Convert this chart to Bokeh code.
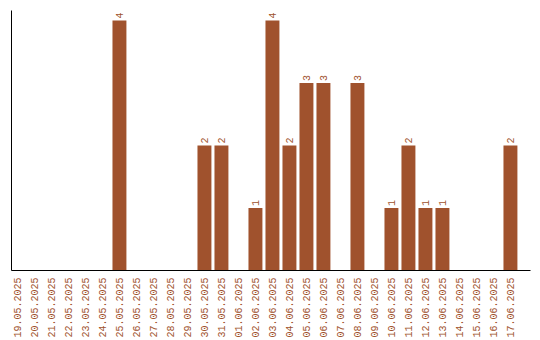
import math
from bokeh.plotting import figure
from bokeh.models import ColumnDataSource, FixedTicker, Range1d
from bokeh.core.properties import value
from bokeh.embed import file_html
from bokeh.resources import INLINE

dates = ["19.05.2025", "20.05.2025", "21.05.2025", "22.05.2025", "23.05.2025",
         "24.05.2025", "25.05.2025", "26.05.2025", "27.05.2025", "28.05.2025",
         "29.05.2025", "30.05.2025", "31.05.2025", "01.06.2025", "02.06.2025",
         "03.06.2025", "04.06.2025", "05.06.2025", "06.06.2025", "07.06.2025",
         "08.06.2025", "09.06.2025", "10.06.2025", "11.06.2025", "12.06.2025",
         "13.06.2025", "14.06.2025", "15.06.2025", "16.06.2025", "17.06.2025"]
counts = [0, 0, 0, 0, 0, 0, 4, 0, 0, 0, 0, 2, 2, 0, 1,
          4, 2, 3, 3, 0, 3, 0, 1, 2, 1, 1, 0, 0, 0, 2]

COLOR = "#A0522D"
FONT = "Liberation Mono"

xs = list(range(len(dates)))
src = ColumnDataSource(dict(x=xs, top=counts, date=dates))
nz = [i for i, c in enumerate(counts) if c > 0]
lab = ColumnDataSource(dict(x=[xs[i] for i in nz], y=[counts[i] for i in nz],
                            t=[str(counts[i]) for i in nz]))

p = figure(width=540, height=340, output_backend="svg", toolbar_location=None,
           x_range=Range1d(-0.35, 30.18), y_range=Range1d(0, 4.16),
           min_border_left=11, min_border_right=10, min_border_top=10,
           min_border_bottom=70)
p.outline_line_color = None
p.xgrid.grid_line_color = None
p.ygrid.grid_line_color = None

p.vbar(x="x", top="top", width=0.82, source=src, color=COLOR, line_color=None)
p.text(x="x", y="y", text="t", source=lab, angle=math.pi / 2,
       text_align="left", text_baseline="middle", y_offset=-2,
       text_color=COLOR, text_font=value(FONT), text_font_size="10px")

xa = p.xaxis[0]
xa.ticker = FixedTicker(ticks=xs)
xa.major_label_overrides = {i: d for i, d in zip(xs, dates)}
xa.major_label_orientation = math.pi / 2
xa.major_label_text_color = COLOR
xa.major_label_text_font = FONT
xa.major_label_text_font_size = "10px"
xa.major_tick_line_color = None
xa.major_tick_out = 0
xa.major_tick_in = 0
xa.minor_tick_line_color = None
xa.minor_tick_out = 0
xa.axis_line_color = "black"
xa.major_label_standoff = 7

ya = p.yaxis[0]
ya.ticker = FixedTicker(ticks=[])
ya.major_tick_line_color = None
ya.major_tick_out = 0
ya.minor_tick_line_color = None
ya.minor_tick_out = 0
ya.axis_line_color = "black"
ya.major_label_standoff = 0

open("out.html", "w").write(file_html(p, INLINE))
